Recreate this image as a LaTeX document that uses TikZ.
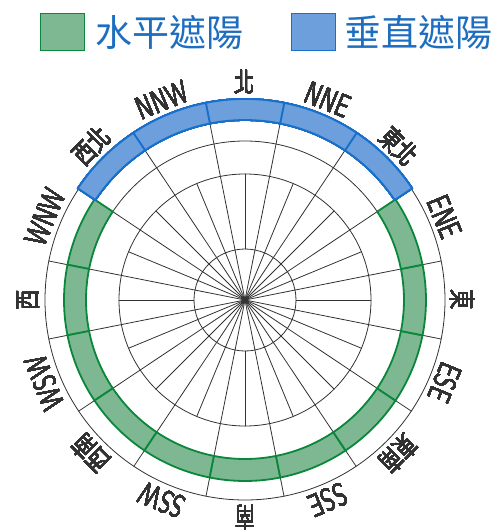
\documentclass[tikz,border=0pt]{standalone}
\usepackage{fontspec}
\newfontfamily\cjkfont{Noto Sans CJK TC}
\usetikzlibrary{positioning}
\definecolor{mygreenfill}{RGB}{126,184,146}
\definecolor{mygreenline}{RGB}{10,135,58}
\definecolor{mybluefill}{RGB}{108,159,219}
\definecolor{myblueline}{RGB}{24,112,202}
\definecolor{mylegendtext}{RGB}{30,110,192}
\definecolor{mygrid}{RGB}{50,50,50}
\tikzset{
  compasspic/.style={
    x=1pt,y=1pt
    ,line cap=round
  }
  ,gridline/.style={draw=mygrid,line width=.8pt}
  ,hband/.style={draw=mygreenline,fill=mygreenfill,line width=1.8pt,line join=round}
  ,vband/.style={draw=myblueline,fill=mybluefill,line width=1.8pt,line join=round}
  ,legendbox/.style={minimum width=44pt,minimum height=37pt,inner sep=0pt,line width=1.6pt}
  ,legendtext/.style={font=\cjkfont\fontsize{37}{37}\selectfont,text=mylegendtext,inner sep=0pt}
  ,dirlabel/.style={font=\cjkfont\fontsize{27}{27}\selectfont,text=mygrid,inner sep=1pt,anchor=south}
  ,dirlatin/.style={dirlabel,font=\sffamily\fontsize{32}{32}\selectfont}
}
\newcommand\bandsector[4]{% style, start angle, inner and outer radius
  \pgfmathsetmacro\sectorend{#2+22.5}
  \path[#1] (#2:#3) arc[start angle=#2,end angle=\sectorend,radius=#3]
    -- (\sectorend:#4) arc[start angle=\sectorend,end angle=#2,radius=#4] -- cycle;
}

\begin{document}
\begin{tikzpicture}[compasspic]
  \useasboundingbox (-245,-231) rectangle (255,300);
  \coordinate (c) at (0,0);
  % grid
  \foreach \r in {51,126,159,200}
    \draw[gridline] (c) circle[radius=\r];
  \foreach \a in {11.25,33.75,...,348.75}
    \draw[gridline] (c) -- (\a:200);
  \foreach \a in {22.5,45,67.5,112.5,135,157.5,202.5,225,247.5,292.5,315,337.5}
    \draw[gridline] (c) -- (\a:126);
  \foreach \a in {0,90,180,270}
    \draw[gridline] (\a:51) -- (\a:126);
  % shading bands
  \foreach \a in {146.25,168.75,...,371.25}
    \bandsector{hband}{\a}{159}{181}
  \foreach \a in {33.75,56.25,...,123.75}
    \bandsector{vband}{\a}{180}{201}
  % direction labels
  \foreach \ang/\txt/\sty [count=\i] in {
      90/北/dirlabel, 67.5/NNE/dirlatin, 45/東北/dirlabel, 22.5/ENE/dirlatin,
      0/東/dirlabel, -22.5/ESE/dirlatin, -45/東南/dirlabel, -67.5/SSE/dirlatin,
      -90/南/dirlabel, -112.5/SSW/dirlatin, -135/西南/dirlabel, -157.5/WSW/dirlatin,
      180/西/dirlabel, 157.5/WNW/dirlatin, 135/西北/dirlabel, 112.5/NNW/dirlatin}
    \node[\sty,rotate=\ang-90,xscale=.75] (lbl\i) at (\ang:204) {\txt};
  % legend
  \node[legendbox,draw=mygreenline,fill=mygreenfill] (hbox) at (-182.5,268) {};
  \node[legendtext,right=10pt of hbox] (htext) {水平遮陽};
  \node[legendbox,draw=myblueline,fill=mybluefill] (vbox) at (68.5,268) {};
  \node[legendtext,right=8pt of vbox] (vtext) {垂直遮陽};
\end{tikzpicture}
\end{document}
